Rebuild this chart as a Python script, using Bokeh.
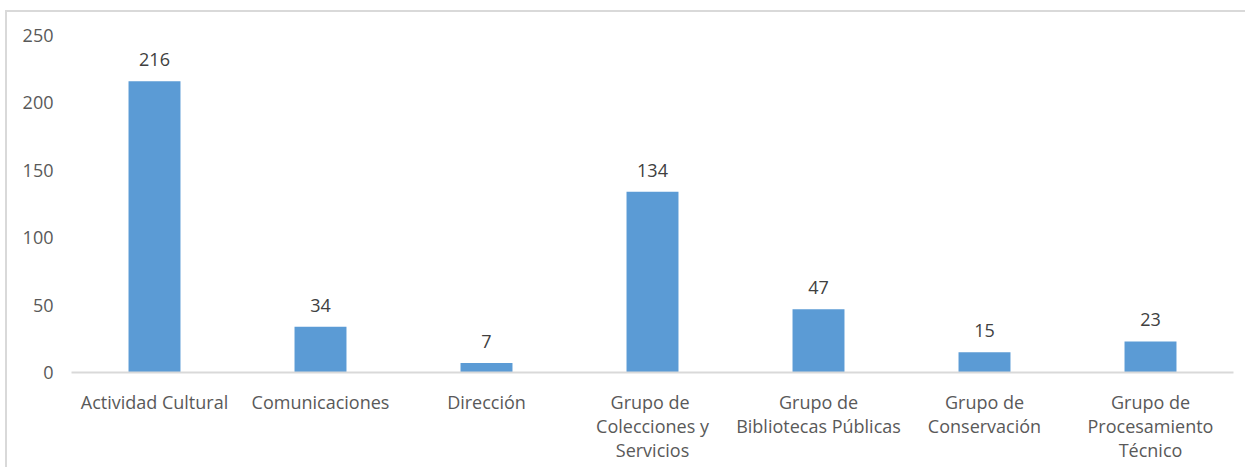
from bokeh.plotting import figure
from bokeh.models import ColumnDataSource, LabelSet, FixedTicker, Range1d
from bokeh.core.properties import value
from bokeh.embed import file_html
from bokeh.resources import INLINE

categories = ["Actividad Cultural", "Comunicaciones", "Dirección",
              "Grupo  de\nColecciones y\nServicios", "Grupo de\nBibliotecas Públicas",
              "Grupo de\nConservación", "Grupo de\nProcesamiento\nTécnico"]
values = [216, 34, 7, 134, 47, 15, 23]
y_ticks = [0, 50, 100, 150, 200, 250]

FONT = "Open Sans"
FS = "18px"

src = ColumnDataSource(dict(cat=categories, val=values, lab=[str(v) for v in values]))

p = figure(x_range=categories, y_range=Range1d(0, 250), width=1240, height=457,
           output_backend="svg", toolbar_location=None,
           min_border_left=64, min_border_right=14, min_border_top=23, min_border_bottom=97)
p.styles = {"margin-left": "5px", "margin-top": "10px",
            "border-left": "2px solid #d9d9d9", "border-top": "2px solid #d9d9d9"}
p.outline_line_color = None
p.background_fill_color = "white"
p.border_fill_color = "white"

p.vbar(x="cat", top="val", width=0.313, source=src, color="#5B9BD5", line_color=None)

labels = LabelSet(x="cat", y="val", text="lab", source=src, text_align="center",
                  text_baseline="bottom", y_offset=15, text_font=value(FONT),
                  text_font_size=value(FS), text_color="#404040")
p.add_layout(labels)

p.xgrid.grid_line_color = None
p.ygrid.grid_line_color = None

p.yaxis.ticker = FixedTicker(ticks=y_ticks)
p.yaxis.axis_line_color = None
p.yaxis.major_tick_line_color = None
p.yaxis.minor_tick_line_color = None
p.yaxis.major_label_standoff = 12
p.yaxis.major_label_text_font = FONT
p.yaxis.major_label_text_font_size = FS
p.yaxis.major_label_text_color = "#595959"

p.xaxis.axis_line_color = "#d9d9d9"
p.xaxis.axis_line_width = 2
p.xaxis.major_tick_line_color = None
p.xaxis.minor_tick_line_color = None
p.xaxis.major_label_standoff = 11
p.xaxis.major_label_text_font = FONT
p.xaxis.major_label_text_font_size = FS
p.xaxis.major_label_text_line_height = 1.0
p.xaxis.major_label_text_color = "#595959"

p.x_range.range_padding = 0

open("out.html", "w").write(file_html(p, INLINE))
